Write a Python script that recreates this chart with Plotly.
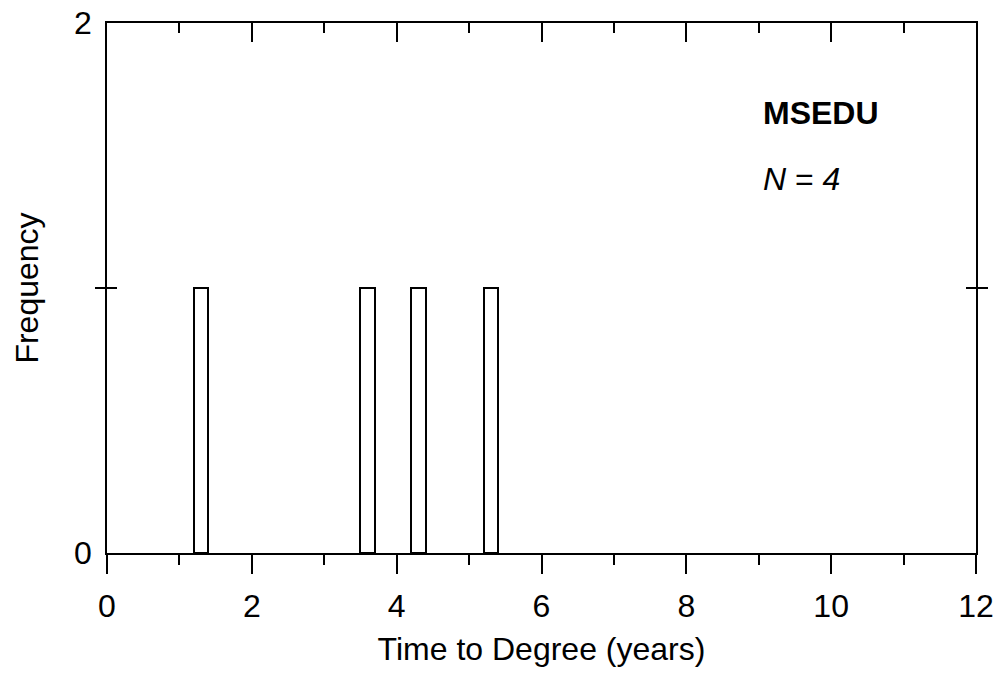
import plotly.graph_objects as go

# Data
bin_centers = [1.3, 3.6, 4.3, 5.3]
counts = [1, 1, 1, 1]
bin_width = 0.2
x_ticks = [0, 2, 4, 6, 8, 10, 12]
y_tickvals = [0, 1, 2]
y_ticktext = ["0", "", "2"]
label_name = "MSEDU"
n_value = 4

FONT = "Liberation Sans, Arial, sans-serif"

fig = go.Figure()
fig.add_trace(go.Bar(
    x=bin_centers, y=counts, width=[bin_width] * len(bin_centers),
    marker=dict(color="white", line=dict(color="black", width=2)),
    showlegend=False, hoverinfo="skip",
))
# invisible trace for top axis
fig.add_trace(go.Scatter(x=[0, 12], y=[0, 0], xaxis="x2", mode="lines",
                         line=dict(width=0), showlegend=False, hoverinfo="skip"))

fig.update_layout(
    width=999, height=684,
    margin=dict(l=107, r=23, t=23, b=131, autoexpand=False),
    paper_bgcolor="white", plot_bgcolor="white",
    font=dict(family=FONT, size=32, color="black"),
    bargap=0,
    xaxis=dict(
        range=[0, 12], tickvals=x_ticks, ticks="outside", ticklen=19,
        tickwidth=1.5, tickcolor="black", showline=True, linecolor="black",
        linewidth=1.5, showgrid=False, zeroline=False,
        minor=dict(dtick=1, tick0=0, ticks="outside", ticklen=10,
                   tickwidth=1.5, tickcolor="black", showgrid=False),
        tickfont=dict(size=32), ticklabelstandoff=5,
        title=dict(text="Time to Degree (years)", font=dict(size=32), standoff=14),
    ),
    xaxis2=dict(
        range=[0, 12], overlaying="x", side="top", tickvals=x_ticks,
        ticks="inside", ticklen=19, tickwidth=1.5, tickcolor="black",
        showline=True, linecolor="black", linewidth=1.5, showgrid=False,
        zeroline=False, showticklabels=False,
        minor=dict(dtick=1, tick0=0, ticks="inside", ticklen=10,
                   tickwidth=1.5, tickcolor="black", showgrid=False),
    ),
    yaxis=dict(
        range=[0, 2], tickvals=y_tickvals, ticktext=y_ticktext,
        ticks="inside", ticklen=10, tickwidth=1.5, tickcolor="black",
        showline=True, linecolor="black", linewidth=1.5, mirror="allticks",
        showgrid=False, zeroline=False, tickfont=dict(size=32),
        ticklabelstandoff=7,
        title=dict(text="Frequency", font=dict(size=32), standoff=26),
    ),
)

fig.add_annotation(x=9.03, y=1.66, xref="x", yref="y", xanchor="left",
                   yanchor="middle", showarrow=False,
                   text=f"<b>{label_name}</b>", font=dict(size=32))
fig.add_annotation(x=9.03, y=1.41, xref="x", yref="y", xanchor="left",
                   yanchor="middle", showarrow=False,
                   text=f"<i>N</i> = <i>{n_value}</i>", font=dict(size=32))

fig.write_html("out.html", config={"displayModeBar": False},
               post_script="document.body.style.margin='0';")
